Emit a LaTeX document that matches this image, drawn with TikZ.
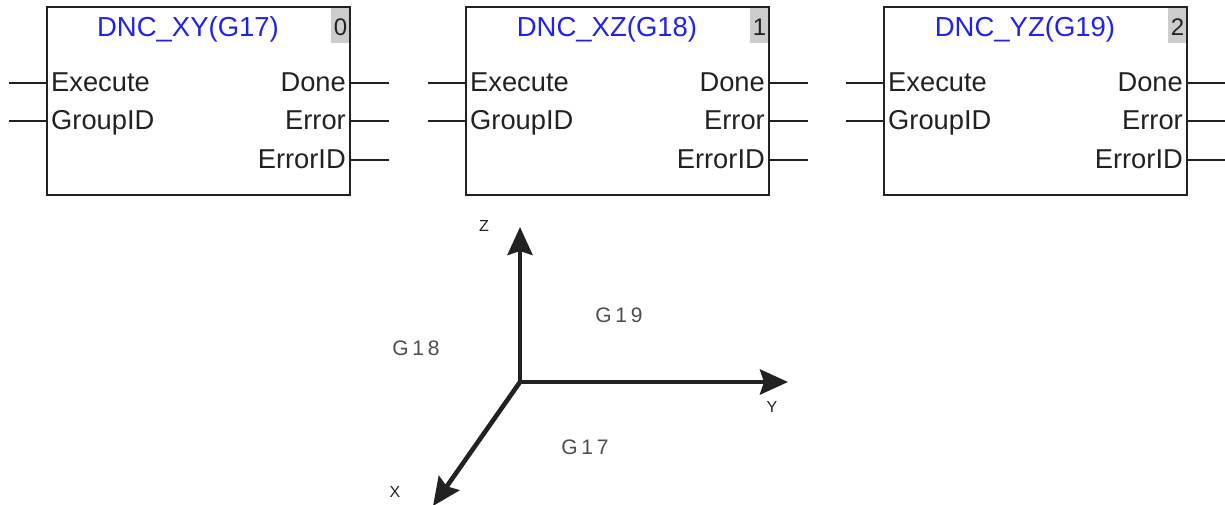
\documentclass[tikz,border=0pt]{standalone}
\usepackage{fontspec}
\setmainfont{Liberation Sans}
\newfontfamily\spacedfont[LetterSpace=18]{Liberation Sans}
\usetikzlibrary{calc,arrows.meta}
\definecolor{inkdark}{HTML}{222222}
\definecolor{titleblue}{HTML}{2222EE}
\tikzset{
  block/.style={draw=inkdark, line width=1.8pt, minimum width=303pt, minimum height=188pt, outer sep=0pt},
  wire/.style={draw=inkdark, line width=1.6pt},
  pintext/.style={text=inkdark, font=\fontsize{27.3}{27.3}\selectfont, inner sep=0pt},
  tagbox/.style={fill=gray!40, minimum width=19pt, minimum height=35pt, inner sep=0pt, outer sep=0pt},
  axis/.style={draw=inkdark, line width=4.6pt, -{Stealth[length=28pt,width=25pt,inset=4pt]}},
  axisname/.style={text=inkdark, font=\fontsize{16}{16}\selectfont, inner sep=0pt},
  planename/.style={text=inkdark!80, font=\spacedfont\fontsize{21}{21}\selectfont, inner sep=0pt}
}
\begin{document}
\begin{tikzpicture}[x=1pt, y=-1pt]
\useasboundingbox (0,0) rectangle (1225,504);

% Function blocks
\foreach \x/\name/\title/\num in {47/xy/DNC\_XY(G17)/0, 466/xz/DNC\_XZ(G18)/1, 884/yz/DNC\_YZ(G19)/2}{
  \node[tagbox] (\name tag) at ({\x+293.5},25.5) {};
  \node[block] (\name) at ({\x+151.5},101) {};
  \node[text=titleblue, font=\fontsize{27.5}{27.5}\selectfont, inner sep=0pt, anchor=base] (\name title) at ({\x+141},36) {\title};
  \node[text=inkdark, font=\fontsize{24}{24}\selectfont, inner sep=0pt, anchor=base east] (\name num) at ({\x+300.5},35.5) {\num};

  % Inputs
  \foreach \pin/\label/\y in {exec/Execute/91.5, group/GroupID/129.5}{
    \node[pintext, anchor=base west] (\name\pin) at ({\x+4},\y) {\label};
  }
  \foreach \pin/\y in {exec/83, group/121}{
    \coordinate (\name\pin end) at ({\x-38},\y);
    \draw[wire] (\name\pin end) -- (\name.west |- \name\pin end);
  }

  % Outputs
  \foreach \pin/\label/\y in {done/Done/91.5, err/Error/129.5, errid/ErrorID/168}{
    \node[pintext, anchor=base east] (\name\pin) at ({\x+299},\y) {\label};
  }
  \foreach \pin/\y in {done/83, err/121, errid/160}{
    \coordinate (\name\pin end) at ({\x+342},\y);
    \draw[wire] (\name.east |- \name\pin end) -- (\name\pin end);
  }
}

% Axes
\coordinate (origin) at (520,382);
\coordinate (axisz) at (520,227);
\coordinate (axisy) at (788,382);
\coordinate (axisx) at (433,506);
\draw[axis] (origin) -- (axisz);
\draw[axis] (origin) -- (axisy);
\draw[axis] (origin) -- (axisx);

\node[axisname] (namez) at (484,226) {Z};
\node[axisname] (namey) at (772,407) {Y};
\node[axisname] (namex) at (395,492) {X};

\node[planename] (planexy) at (585,447) {G17};
\node[planename] (planexz) at (416,348) {G18};
\node[planename] (planeyz) at (619,315) {G19};

\end{tikzpicture}
\end{document}
